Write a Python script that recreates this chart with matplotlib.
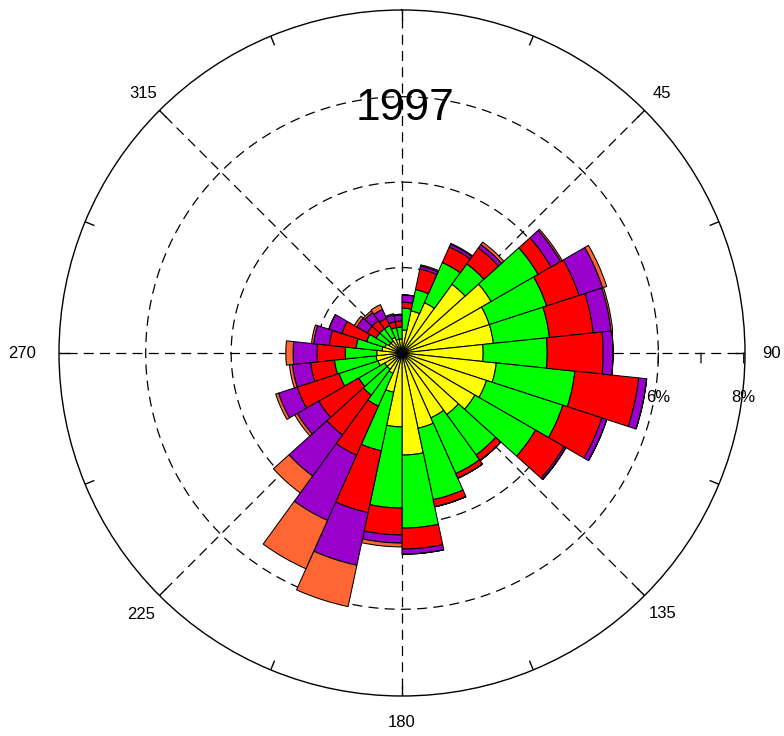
import numpy as np
import matplotlib
matplotlib.use("Agg")
import matplotlib.pyplot as plt

plt.rcParams['font.family'] = ['Liberation Sans', 'DejaVu Sans']

# wind direction sectors (centre of 12-degree bins)
directions = [6, 18, 30, 42, 54, 66, 78, 90, 102, 114, 126, 138, 150, 162, 174,
              186, 198, 210, 222, 234, 246, 258, 270, 282, 294, 306, 318, 330, 342, 354]

# frequency (%) per speed class for each direction
freq_yellow = [0.54, 1.01, 1.29, 1.99, 2.41, 2.15, 2.15, 1.90, 2.22, 2.08, 1.97, 1.78, 1.66, 1.80, 2.39,
               1.73, 0.94, 0.52, 0.47, 0.47, 0.59, 0.61, 0.59, 0.47, 0.42, 0.35, 0.35, 0.40, 0.33, 0.33]
freq_green = [0.51, 0.51, 1.03, 0.59, 1.27, 1.41, 1.32, 1.50, 1.85, 1.88, 1.64, 1.17, 1.43, 1.71, 1.71,
              1.90, 1.40, 0.84, 0.75, 0.70, 0.96, 0.98, 0.74, 0.61, 0.45, 0.35, 0.35, 0.30, 0.28, 0.28]
freq_red = [0.14, 0.49, 0.40, 0.46, 0.35, 0.80, 1.03, 1.31, 1.50, 0.96, 0.77, 0.16, 0.12, 0.17, 0.49,
            0.63, 1.48, 1.26, 1.15, 1.08, 1.03, 0.56, 0.66, 0.63, 0.61, 0.24, 0.24, 0.19, 0.14, 0.14]
freq_purple = [0.17, 0.07, 0.07, 0.10, 0.26, 0.58, 0.42, 0.23, 0.19, 0.12, 0.05, 0.00, 0.00, 0.00, 0.12,
               0.19, 1.26, 1.67, 1.19, 0.58, 0.46, 0.43, 0.56, 0.37, 0.32, 0.28, 0.23, 0.23, 0.16, 0.14]
freq_orange = [0.00, 0.03, 0.02, 0.07, 0.04, 0.10, 0.04, 0.00, 0.00, 0.00, 0.00, 0.00, 0.00, 0.00, 0.00,
               0.09, 0.99, 1.24, 0.49, 0.07, 0.07, 0.07, 0.17, 0.05, 0.00, 0.07, 0.05, 0.12, 0.03, 0.02]

series = [freq_yellow, freq_green, freq_red, freq_purple, freq_orange]
colors = ['#FFFF00', '#00FF00', '#FF0000', '#9900CC', '#FF6633']

grid_levels = [2, 4, 6]
pct_labels = [6, 8]
angle_labels = [45, 90, 135, 180, 225, 270, 315]
title = '1997'

fig = plt.figure(figsize=(7.84, 7.36), dpi=100)
ax = fig.add_axes([59/784, 40/736, 686/784, 686/736], projection='polar')
ax.set_theta_zero_location('N')
ax.set_theta_direction(-1)
rmax = 8.03
ax.set_ylim(0, rmax)

theta = np.deg2rad(directions)
bottom = np.zeros(len(directions))
for vals, col in zip(series, colors):
    vals = np.array(vals)
    ax.bar(theta, vals, width=np.deg2rad(12), bottom=bottom, color=col,
           edgecolor='black', linewidth=0.75, zorder=3)
    bottom = bottom + vals

# dashed grid circles and spokes
tt = np.linspace(0, 2*np.pi, 721)
for r in grid_levels:
    ax.plot(tt, np.full_like(tt, r), color='black', lw=0.9, ls=(0, (8, 5)), zorder=1)
for a in range(0, 360, 45):
    ax.plot([np.deg2rad(a)]*2, [0, rmax], color='black', lw=0.9, ls=(0, (8, 5)), zorder=1)

ax.grid(False)
ax.set_yticks([])
ax.set_xticks([])
ax.spines['polar'].set_linewidth(1.0)

# inward tick marks on the outer circle every 22.5 degrees
tick_len = 10 / 42.7
for a in np.arange(0, 360, 22.5):
    ax.plot([np.deg2rad(a)]*2, [rmax - tick_len, rmax], color='black', lw=1.0,
            solid_capstyle='butt', zorder=2)

# radial ticks and percentage labels on the east axis
for r in [6, 7, 8]:
    ax.annotate('', xy=(np.pi/2, r), xytext=(0, -10), textcoords='offset pixels',
                arrowprops=dict(arrowstyle='-', lw=0.9, color='black',
                                shrinkA=0, shrinkB=0))
for r in pct_labels:
    ax.annotate(f'{r}%', xy=(np.pi/2, r), xytext=(0, -44), textcoords='offset pixels',
                ha='center', va='center', fontsize=12)

label_r = {45: 8.6, 90: 8.65, 135: 8.62, 180: 8.65, 225: 8.65, 270: 8.9, 315: 8.58}
for a in angle_labels:
    ax.text(np.deg2rad(a), label_r[a], str(a), ha='center', va='center', fontsize=12)

fig.text(405/784, 1 - 108/736, title, fontsize=32, ha='center', va='center')

fig.savefig('out.png', dpi=100, facecolor='white')
